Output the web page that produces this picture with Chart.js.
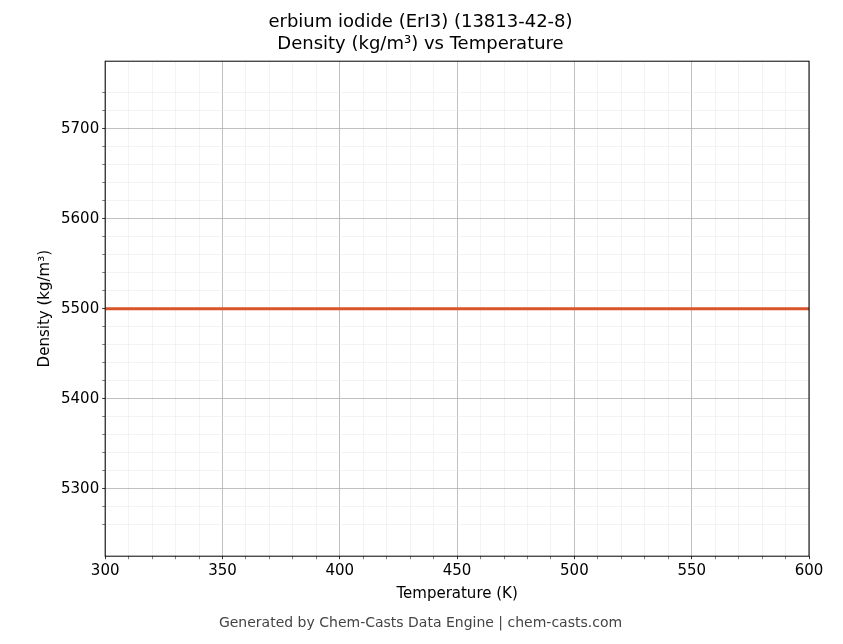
<!DOCTYPE html>
<html>
<head>
<meta charset="utf-8">
<script src="https://cdn.jsdelivr.net/npm/chart.js@4/dist/chart.umd.min.js"></script>
<style>
  body { margin: 0; background: #fff; }
  #wrap { width: 843px; height: 644px; }
</style>
</head>
<body>
<div id="wrap"><canvas id="myChart"></canvas></div>
<script>
// data
const temperatures = [300, 350, 400, 450, 500, 550, 600];
const densities = [5500, 5500, 5500, 5500, 5500, 5500, 5500];
const xRange = [300, 600];
const yRange = [5225, 5775];

const points = temperatures.map((t, i) => ({ x: t, y: densities[i] }));

// box around the plot area
const frame = {
  id: 'frame',
  afterDraw(chart) {
    const a = chart.chartArea, c = chart.ctx;
    c.save();
    c.strokeStyle = '#000';
    c.lineWidth = 1;
    c.strokeRect(a.left, a.top, a.right - a.left, a.bottom - a.top);
    c.restore();
  }
};

const font = { family: 'DejaVu Sans', size: 15 };

new Chart(document.getElementById('myChart'), {
  type: 'line',
  data: {
    datasets: [{
      data: points,
      borderColor: '#d9532b',
      borderWidth: 3,
      pointRadius: 0,
      tension: 0
    }]
  },
  options: {
    responsive: true,
    maintainAspectRatio: false,
    animation: false,
    layout: { padding: { left: 32, right: 34, top: 6, bottom: 12 } },
    plugins: {
      legend: { display: false },
      tooltip: { enabled: false },
      title: {
        display: true,
        text: ['erbium iodide (ErI3) (13813-42-8)', 'Density (kg/m³) vs Temperature'],
        color: '#000',
        font: { family: 'DejaVu Sans', size: 18, weight: 'normal', lineHeight: 1.2 },
        padding: { top: 6, bottom: 6 }
      },
      subtitle: {
        display: true,
        position: 'bottom',
        text: 'Generated by Chem-Casts Data Engine | chem-casts.com',
        color: '#444',
        font: { family: 'DejaVu Sans', size: 14 },
        padding: { top: 8, bottom: 0 }
      }
    },
    scales: {
      x: {
        type: 'linear',
        min: xRange[0], max: xRange[1],
        ticks: {
          stepSize: 10, autoSkip: false, maxRotation: 0, color: '#000', font,
          callback: v => (v % 50 === 0 ? v : '')
        },
        grid: {
          color: c => (c.tick && c.tick.value % 50 === 0 ? '#b0b0b0' : '#e6e6e6'),
          lineWidth: c => (c.tick && c.tick.value % 50 === 0 ? 0.8 : 0.5),
          tickColor: '#000',
          tickLength: c => (c.tick && c.tick.value % 50 === 0 ? 6 : 3)
        },
        border: { display: false },
        title: { display: true, text: 'Temperature (K)', color: '#000', font, padding: { top: 2 } }
      },
      y: {
        type: 'linear',
        min: yRange[0], max: yRange[1],
        afterBuildTicks: s => {
          s.ticks = s.ticks.filter(t => t.value % 20 === 0);
        },
        ticks: {
          stepSize: 20, autoSkip: false, color: '#000', font,
          callback: v => (v % 100 === 0 ? v : '')
        },
        grid: {
          color: c => (c.tick && c.tick.value % 100 === 0 ? '#b0b0b0' : '#e6e6e6'),
          lineWidth: c => (c.tick && c.tick.value % 100 === 0 ? 0.8 : 0.5),
          tickColor: '#000',
          tickLength: c => (c.tick && c.tick.value % 100 === 0 ? 6 : 3)
        },
        border: { display: false },
        title: { display: true, text: 'Density (kg/m³)', color: '#000', font }
      }
    }
  },
  plugins: [frame]
});
</script>
</body>
</html>
